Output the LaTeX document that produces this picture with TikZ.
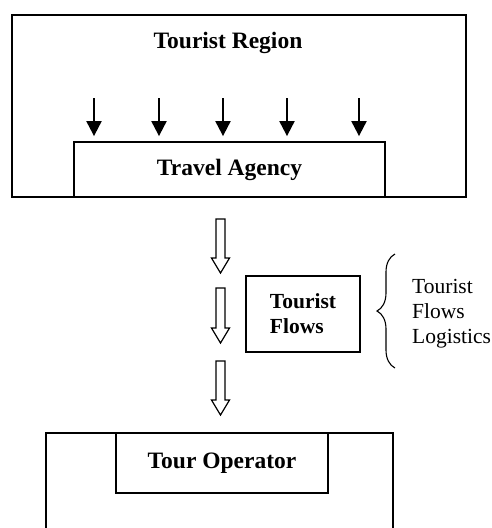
\documentclass[tikz,border=0pt]{standalone}
\usepackage{fontspec}
\setmainfont{Liberation Serif}
\usetikzlibrary{arrows.meta,positioning,decorations.pathreplacing}

\tikzset{
  box/.style={draw, line width=1.8pt, inner sep=0pt},
  bigtext/.style={font=\fontsize{23.5}{28}\selectfont\bfseries},
  midtext/.style={font=\fontsize{21.5}{25}\selectfont},
  drop/.style={line width=2pt, shorten >=5pt, -{Triangle[length=15pt,width=15pt]}},
  hollow/.style={draw, line width=1.2pt}
}

\begin{document}
\begin{tikzpicture}[x=1pt,y=-1pt]
   \useasboundingbox (0,0) rectangle (491,528);
   % tourist region with travel agency
   \node[box, minimum width=454pt, minimum height=182pt] (region) at (239,106) {};
   \node[bigtext] (regionlabel) at (228,42.5) {Tourist Region};
   \node[box, bigtext, minimum width=311pt, minimum height=55pt] (agency) at (229.5,169.5) {Travel Agency};
   \foreach \x [count=\i] in {94,159,223,287,359} {
     \coordinate (s\i) at (\x,98);
     \draw[drop] (s\i) -- (s\i |- agency.north);
   }
   % flows
   \foreach \top/\tip in {219/273, 288/343, 361/415}
     \draw[hollow] (216,\top) -- (216,\tip-15) -- (211.5,\tip-15) -- (220.5,\tip)
        -- (229.5,\tip-15) -- (225,\tip-15) -- (225,\top) -- cycle;
   \node[box, minimum width=114pt, minimum height=76pt, font=\fontsize{21.5}{25}\selectfont\bfseries, align=left] (flows) at (303,314) {Tourist\\Flows};
   \coordinate (b1) at (395,368);
   \coordinate (b2) at (395,254);
   \draw[decorate, decoration={brace, amplitude=18pt}, line width=1.1pt] (b1) -- (b2);
   \node[midtext, align=left, anchor=north west, inner sep=0pt] (logistics) at (412,279) {Tourist\\Flows\\Logistics};
   % tour operator
   \draw[line width=1.8pt] (46,528) |- (393,433) -- (393,528);
   \node[box, bigtext, minimum width=212pt, minimum height=60pt] (operator) at (222,463) {Tour Operator};
\end{tikzpicture}
\end{document}
